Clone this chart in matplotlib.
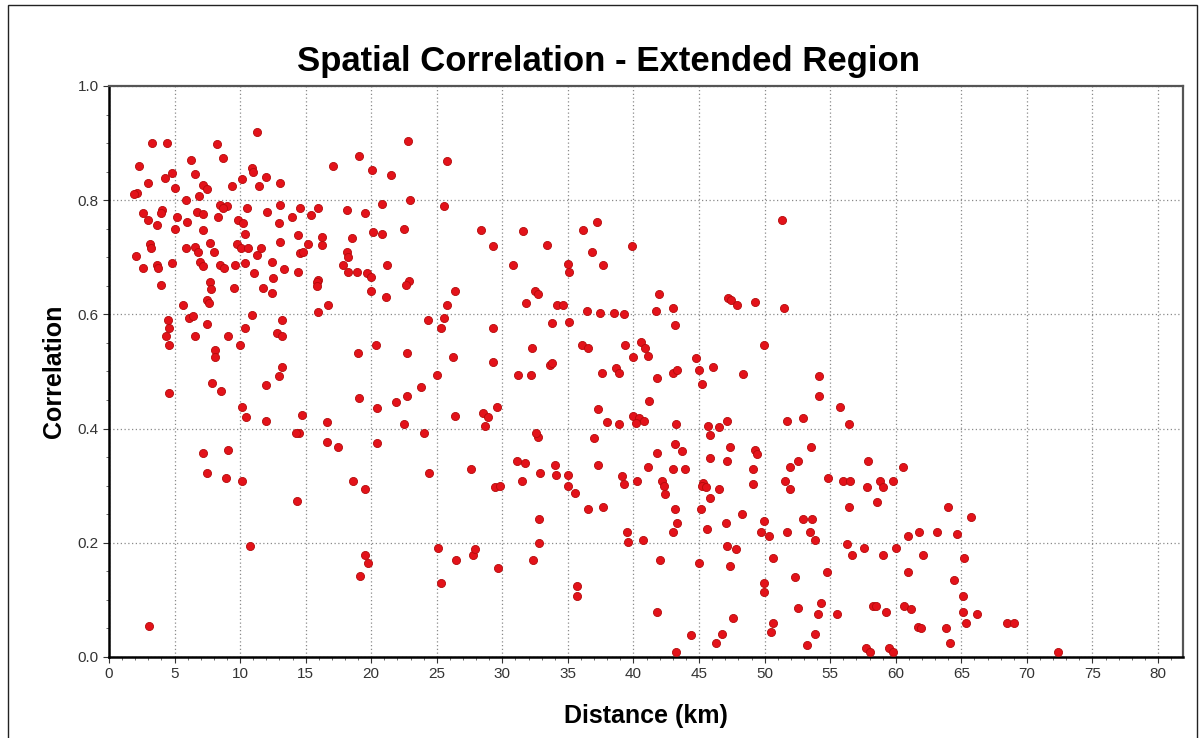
import matplotlib
matplotlib.use("Agg")
import matplotlib.pyplot as plt
from matplotlib.patches import Rectangle
from matplotlib.ticker import MultipleLocator

plt.rcParams['font.family'] = ['Liberation Sans', 'DejaVu Sans']

# distance (km) / correlation pairs
dist_km = [
    11.27, 3.26, 4.40, 8.21, 8.72, 2.31, 6.23, 4.78, 4.27, 6.56, 10.88, 11.0, 11.95, 13.04, 10.12, 17.11,
    19.1, 20.04, 3.0, 2.11, 1.9, 5.03, 7.19, 7.45, 9.36, 11.47, 6.89, 5.87, 2.62, 3.0, 4.02, 3.94, 3.64,
    5.21, 5.97, 5.03, 6.69, 7.2, 8.34, 8.47, 8.98, 8.7, 7.19, 9.87, 10.25, 10.5, 10.37, 12.03, 13.04,
    12.99, 13.93, 14.57, 15.38, 15.97, 18.13, 19.53, 20.16, 3.13, 3.2, 2.06, 2.62, 3.69, 3.76, 4.78,
    5.87, 6.56, 6.8, 7.7, 8.0, 6.94, 7.2, 8.47, 8.8, 9.6, 10.37, 9.74, 10.1, 10.6, 11.27, 11.6, 12.41,
    13.04, 13.37, 14.44, 14.57, 14.8, 15.2, 16.22, 16.22, 14.44, 15.97, 18.13, 18.2, 18.5, 17.87, 18.2,
    18.9, 19.65, 20.0, 11.06,
    3.94, 7.7, 7.8, 9.53, 11.77, 12.53, 12.41, 15.84, 15.9, 19.96, 7.45, 7.6, 5.67, 4.53, 4.55, 4.35,
    4.6, 6.13, 6.4, 7.5, 6.56, 9.1, 8.08, 8.08, 10.0, 10.37, 10.88, 13.17, 12.79, 13.2, 15.97, 16.73,
    13.17, 12.99, 11.98, 7.83, 8.52, 4.6, 19.02, 20.37, 19.09, 20.47, 10.12, 10.45, 11.98, 14.7, 14.52,
    14.3, 16.65, 16.6, 17.49, 20.47, 7.19, 9.1,
    7.5, 8.92, 10.12, 14.32, 18.64, 19.53, 10.75, 19.53, 19.73, 19.15, 3.07,
    22.78, 25.76, 21.49, 20.8, 22.96, 25.55, 20.8, 22.53, 28.38, 29.26, 31.55, 33.43, 30.84, 35.04,
    35.05, 36.13, 37.25, 36.82, 37.66, 39.87, 21.23, 22.9,
    22.65, 21.13, 26.39, 25.76, 25.55, 25.3, 24.36, 29.26, 31.81, 32.5, 32.7, 34.15, 34.66, 33.77, 35.1,
    36.48, 37.45, 38.5, 39.3, 22.75, 26.2, 29.26, 32.24, 33.64, 33.8, 36.05, 36.56, 39.36, 39.99, 40.55,
    40.88, 31.22, 32.17, 25.04, 37.58, 38.67, 38.9, 23.77, 22.75, 21.9, 22.53, 24.03, 26.39, 28.55,
    28.93, 29.57, 28.68, 32.75, 32.6, 37.33, 37.97, 38.93, 40.0, 40.4, 40.8, 40.2, 37.0, 31.1, 31.7,
    37.3, 34.0,
    24.43, 27.59, 32.88, 31.48, 34.1, 35.04, 35.04, 35.55, 39.1, 39.3, 40.25, 41.14, 29.44, 29.8, 36.56,
    37.7, 32.82, 32.82, 32.37, 25.12, 26.47, 27.74, 27.9, 29.7, 25.3, 39.48, 39.6, 40.76, 35.72, 35.72,
    51.31,
    41.98, 41.72, 43.04, 43.17, 47.2, 47.4, 47.9, 49.28, 51.49, 49.96, 41.14, 44.78, 45.03, 46.1, 43.0,
    43.3, 41.77, 45.2, 48.34, 54.18, 54.18, 41.21, 43.25, 45.71, 45.84, 46.55, 47.16, 51.69, 52.96,
    55.76, 56.47, 43.17, 43.68, 41.77, 47.37, 49.3, 49.4, 53.52, 45.84, 47.16, 52.58, 51.94, 57.92,
    60.59, 43.0, 43.9, 49.1,
    42.15, 42.3, 42.4, 45.3, 45.2, 45.5, 45.8, 46.55, 49.15, 51.56, 51.94, 54.87, 56.0, 56.5, 57.8,
    58.8, 59.0, 59.78, 58.6, 56.47, 43.17, 45.13, 48.26, 43.04, 43.3, 45.64, 47.06, 49.96, 49.7, 50.37,
    51.69, 52.9, 53.6, 53.47, 53.85, 47.16, 47.8, 56.26, 57.59, 56.65, 59.06, 60.03, 60.97, 61.8, 42.03,
    45.03, 47.37, 50.62, 52.33, 54.74, 60.97, 49.96, 49.96, 54.3, 54.1, 52.58, 55.5, 58.25, 58.5, 59.27,
    60.6, 61.15, 61.73, 41.77, 47.62, 50.67, 50.47, 53.85, 53.22, 44.37, 46.74, 46.3, 43.25, 57.74,
    58.0, 59.45, 59.78,
    63.95, 65.73, 63.13, 64.66, 62.07, 65.22, 64.45, 65.12, 65.12, 66.19, 65.37, 61.92, 63.84, 64.1,
    68.47, 68.98, 72.4,
]
corr = [
    0.92, 0.90, 0.90, 0.898, 0.874, 0.859, 0.870, 0.847, 0.839, 0.845, 0.857, 0.85, 0.840, 0.830, 0.837,
    0.859, 0.877, 0.853, 0.830, 0.812, 0.81, 0.821, 0.827, 0.82, 0.825, 0.824, 0.807, 0.80, 0.778, 0.765,
    0.783, 0.778, 0.757, 0.771, 0.762, 0.749, 0.780, 0.775, 0.771, 0.792, 0.79, 0.787, 0.748, 0.765,
    0.760, 0.786, 0.741, 0.78, 0.792, 0.760, 0.771, 0.786, 0.774, 0.786, 0.783, 0.778, 0.745, 0.724,
    0.717, 0.702, 0.681, 0.687, 0.682, 0.690, 0.716, 0.718, 0.71, 0.725, 0.71, 0.692, 0.685, 0.687,
    0.681, 0.687, 0.69, 0.724, 0.717, 0.716, 0.704, 0.717, 0.692, 0.726, 0.68, 0.739, 0.707, 0.71,
    0.724, 0.736, 0.722, 0.675, 0.66, 0.71, 0.70, 0.733, 0.686, 0.675, 0.675, 0.672, 0.665, 0.673,
    0.651, 0.657, 0.645, 0.647, 0.646, 0.663, 0.637, 0.657, 0.65, 0.641, 0.626, 0.62, 0.616, 0.591,
    0.576, 0.562, 0.546, 0.593, 0.597, 0.584, 0.562, 0.562, 0.538, 0.525, 0.546, 0.577, 0.599, 0.591,
    0.567, 0.562, 0.605, 0.616, 0.508, 0.492, 0.476, 0.480, 0.465, 0.462, 0.532, 0.546, 0.453, 0.436,
    0.437, 0.421, 0.414, 0.424, 0.393, 0.392, 0.412, 0.377, 0.368, 0.375, 0.358, 0.362,
    0.323, 0.313, 0.309, 0.274, 0.309, 0.294, 0.194, 0.179, 0.165, 0.142, 0.055,
    0.904, 0.869, 0.844, 0.793, 0.80, 0.79, 0.741, 0.749, 0.748, 0.719, 0.746, 0.722, 0.687, 0.688,
    0.675, 0.748, 0.762, 0.71, 0.687, 0.719, 0.687, 0.658,
    0.651, 0.630, 0.641, 0.616, 0.593, 0.576, 0.591, 0.576, 0.62, 0.641, 0.636, 0.616, 0.616, 0.585,
    0.587, 0.606, 0.602, 0.602, 0.601, 0.532, 0.526, 0.517, 0.541, 0.511, 0.514, 0.546, 0.541, 0.546,
    0.526, 0.552, 0.541, 0.494, 0.494, 0.494, 0.497, 0.506, 0.497, 0.472, 0.457, 0.447, 0.408, 0.393,
    0.422, 0.428, 0.421, 0.438, 0.405, 0.386, 0.393, 0.434, 0.412, 0.408, 0.422, 0.418, 0.413, 0.41,
    0.383, 0.344, 0.339, 0.336, 0.336,
    0.323, 0.329, 0.323, 0.309, 0.319, 0.319, 0.299, 0.287, 0.317, 0.303, 0.309, 0.333, 0.298, 0.30,
    0.259, 0.263, 0.241, 0.200, 0.17, 0.19, 0.17, 0.179, 0.189, 0.155, 0.129, 0.219, 0.202, 0.205,
    0.124, 0.106,
    0.765,
    0.636, 0.606, 0.612, 0.581, 0.628, 0.625, 0.616, 0.622, 0.612, 0.546, 0.527, 0.523, 0.503, 0.507,
    0.497, 0.503, 0.488, 0.478, 0.496, 0.492, 0.457, 0.448, 0.408, 0.405, 0.389, 0.403, 0.413, 0.414,
    0.418, 0.437, 0.408, 0.373, 0.361, 0.358, 0.368, 0.362, 0.356, 0.368, 0.348, 0.344, 0.344, 0.333,
    0.344, 0.332, 0.329, 0.329, 0.33,
    0.309, 0.30, 0.285, 0.305, 0.30, 0.297, 0.278, 0.294, 0.303, 0.309, 0.294, 0.313, 0.309, 0.309,
    0.298, 0.309, 0.298, 0.309, 0.272, 0.263, 0.259, 0.259, 0.25, 0.219, 0.235, 0.224, 0.235, 0.239,
    0.219, 0.212, 0.219, 0.241, 0.241, 0.219, 0.205, 0.194, 0.189, 0.198, 0.19, 0.179, 0.179, 0.19,
    0.212, 0.219, 0.17, 0.164, 0.159, 0.173, 0.14, 0.149, 0.149, 0.129, 0.113, 0.095, 0.075, 0.085,
    0.075, 0.089, 0.089, 0.079, 0.089, 0.084, 0.053, 0.079, 0.068, 0.06, 0.044, 0.04, 0.021, 0.039,
    0.041, 0.024, 0.009, 0.016, 0.008, 0.016, 0.009,
    0.263, 0.245, 0.219, 0.215, 0.179, 0.173, 0.135, 0.106, 0.079, 0.075, 0.06, 0.05, 0.05, 0.024,
    0.06, 0.06, 0.008,
]

x_ticks = list(range(0, 81, 5))
y_ticks = [0.0, 0.2, 0.4, 0.6, 0.8, 1.0]

fig = plt.figure(figsize=(12.04, 7.38), dpi=100)
ax = fig.add_axes([0.0905, 0.1098, 0.892, 0.7737])

ax.scatter(dist_km, corr, s=34, c='#e3121a', edgecolors='#b40a0a', linewidths=0.6, zorder=3)

ax.set_xlim(0, 81.9)
ax.set_ylim(0, 1.0)
ax.set_xticks(x_ticks)
ax.set_yticks(y_ticks)
ax.set_yticklabels([f"{v:.1f}" for v in y_ticks])
ax.xaxis.set_minor_locator(MultipleLocator(1))
ax.yaxis.set_minor_locator(MultipleLocator(0.05))
ax.grid(True, which='major', linestyle=(0, (1, 2)), color='#8a8a8a', linewidth=0.9)
ax.tick_params(which='major', direction='out', length=4, labelsize=11, colors='#333333')
ax.tick_params(which='minor', direction='out', length=2, color='#555555')
for side in ['left', 'bottom']:
    ax.spines[side].set_linewidth(1.8)
for side in ['top', 'right']:
    ax.spines[side].set_linewidth(1.6)
    ax.spines[side].set_color('#555555')

ax.set_xlabel('Distance (km)', fontsize=18, fontweight='bold', labelpad=16)
ax.set_ylabel('Correlation', fontsize=18, fontweight='bold', labelpad=8)
fig.text(0.505, 0.916, 'Spatial Correlation - Extended Region', ha='center', va='center',
         fontsize=25, fontweight='bold')

# thin frame around the whole picture
fig.patches.append(Rectangle((0.007, -0.01), 0.987, 1.003, transform=fig.transFigure,
                             fill=False, edgecolor='#222222', linewidth=1.0))

fig.savefig('out.png', dpi=100)
